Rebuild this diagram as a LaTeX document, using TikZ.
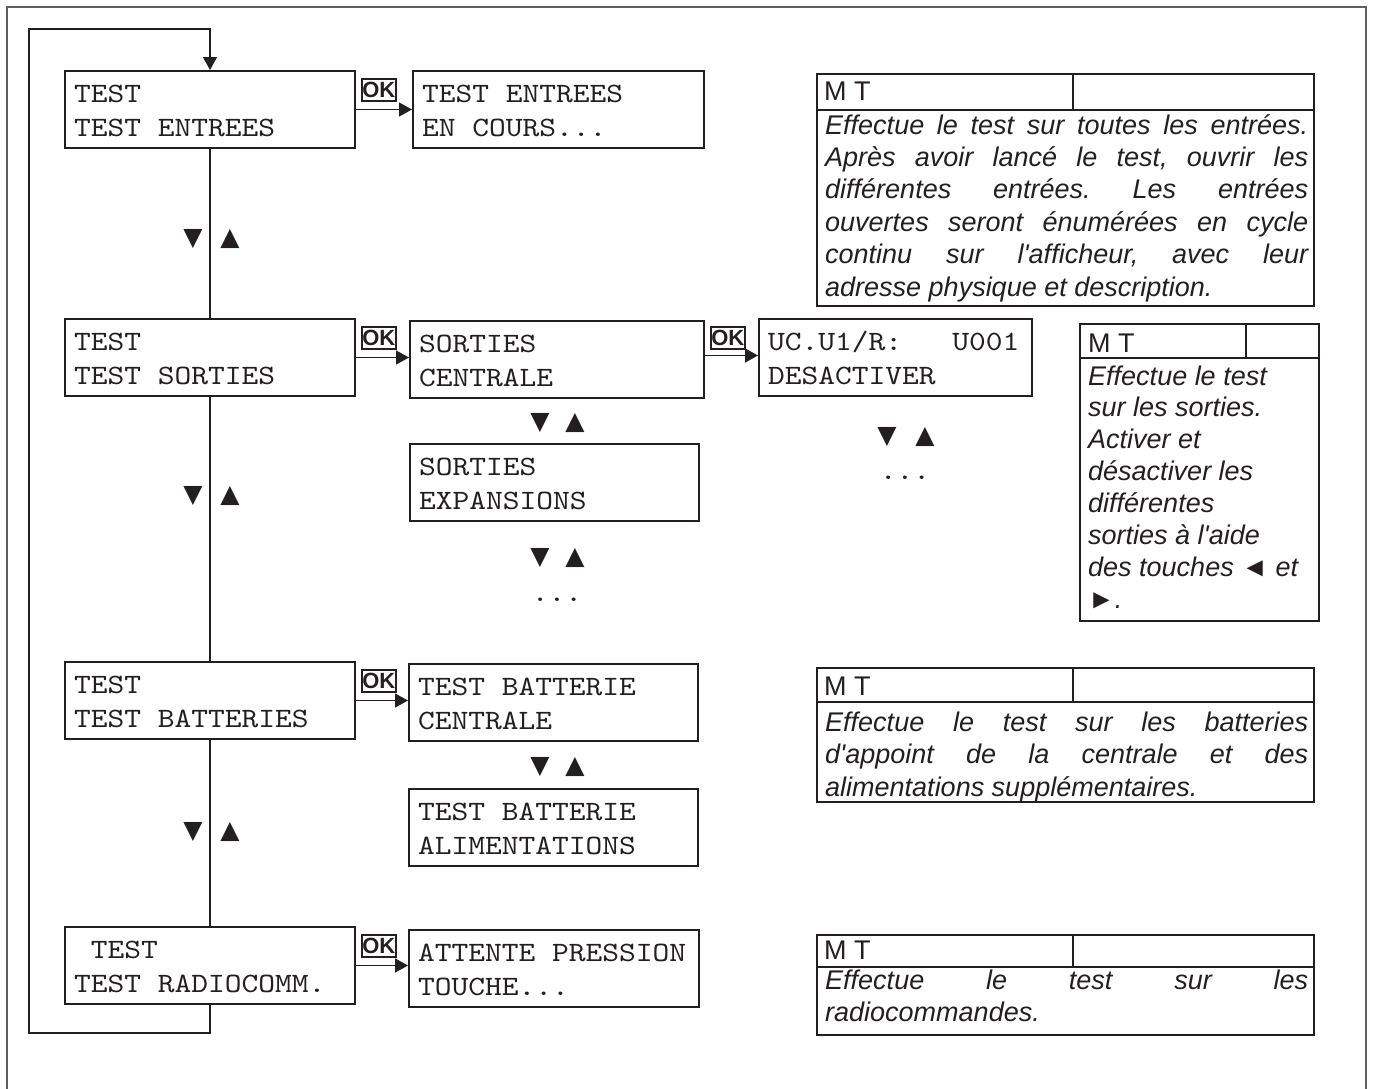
\documentclass[tikz,border=0pt]{standalone}
\usepackage{fontspec}
\usetikzlibrary{arrows.meta,calc}
\newfontfamily\lcdfont{lmmono10-regular.otf}[FakeStretch=1.14]
\newfontfamily\sansfont{Liberation Sans}
\newfontfamily\symfont{DejaVu Sans}
\definecolor{ink}{RGB}{35,31,32}
\definecolor{framegray}{RGB}{95,95,95}
\newcommand\lst{\rule[-4.5pt]{0pt}{29.5pt}}
\newcommand\ms{\phantom{X}}
\newcommand\symtri[1]{{\upshape #1}}
\frenchspacing
\begin{document}
\begin{tikzpicture}[x=1pt,y=-1pt,
  lcd/.style={draw=ink, line width=2pt, minimum height=77pt, inner xsep=9pt, inner ysep=0pt,
    align=left, text width=#1, font=\lcdfont\fontsize{28}{34}\selectfont, text=ink, anchor=north west},
  okbox/.style={draw=ink, line width=1.5pt, font=\sansfont\bfseries\fontsize{22}{22}\selectfont,
    minimum width=34pt, minimum height=22pt, inner sep=0pt, text=ink, anchor=south west},
  conn/.style={draw=ink, line width=1.2pt},
  arr/.style={conn, -{Triangle[length=13pt,width=14pt]}},
  tri/.style={font=\symfont\fontsize{25}{25}\selectfont, text=ink, inner sep=0pt},
  dots/.style={font=\lcdfont\fontsize{28}{28}\selectfont, text=ink, inner sep=0pt},
  mtframe/.style={draw=ink, line width=2pt},
  mthead/.style={font=\sansfont\fontsize{27}{32}\selectfont, text=ink, anchor=base west, inner sep=0pt},
  mtline/.style={font=\sansfont\itshape\fontsize{27}{32}\selectfont, text=ink, anchor=base west, inner sep=0pt},
  framel/.style={draw=framegray, line width=1.5pt}]
\useasboundingbox (0,0) rectangle (1373,1088);
% outer frame
\draw[framel] (7,1100) -- (7,7) -- (1366,7) -- (1366,1100);

% left column
\node[lcd=272pt] (b1) at (64,70) {\lst TEST\\\lst TEST\ms ENTREES};
\node[lcd=272pt] (b2) at (64,318) {\lst TEST\\\lst TEST\ms SORTIES};
\node[lcd=272pt] (b3) at (64,661) {\lst TEST\\\lst TEST\ms BATTERIES};
\node[lcd=272pt] (b4) at (64,926) {\lst\ms TEST\\\lst TEST\ms RADIOCOMM.};

% second column
\node[lcd=273pt] (c1) at (412,70) {\lst TEST\ms ENTREES\\\lst EN\ms COURS...};
\node[lcd=276pt] (c2) at (409,320) {\lst SORTIES\\\lst CENTRALE};
\node[lcd=271pt] (c3) at (409,443) {\lst SORTIES\\\lst EXPANSIONS};
\node[lcd=271pt] (c4) at (408,663) {\lst TEST\ms BATTERIE\\\lst CENTRALE};
\node[lcd=271pt] (c5) at (408,788) {\lst TEST\ms BATTERIE\\\lst ALIMENTATIONS};
\node[lcd=272pt] (c6) at (408,929) {\lst ATTENTE\ms PRESSION\\\lst TOUCHE...};

% third column
\node[lcd=255pt] (d1) at (758,318) {\lst UC.U1/R:\ms\ms\ms U001\\\lst DESACTIVER};

% loop and vertical connectors
\coordinate (lb) at (29,1033);
\coordinate (lt) at (29,29);
\draw[arr] (b4.south) |- (lb) -- (lt) -| (b1.north);
\draw[conn] (b1.south) -- (b2.north);
\draw[conn] (b2.south) -- (b3.north);
\draw[conn] (b3.south) -- (b4.north);

% OK arrows
\node[okbox] (ok1) at ([shift={(5,-8)}]b1.east) {OK};
\draw[arr] (b1.east) -- (b1.east -| c1.west);
\node[okbox] (ok2) at ([shift={(5,-8)}]b2.east) {OK};
\draw[arr] (b2.east) -- (b2.east -| c2.west);
\node[okbox] (ok3) at ([shift={(5,-8)}]b3.east) {OK};
\draw[arr] (b3.east) -- (b3.east -| c4.west);
\node[okbox] (ok4) at ([shift={(5,-8)}]b4.east) {OK};
\draw[arr] (b4.east) -- (b4.east -| c6.west);
\coordinate (a5) at ($(c2.east)+(0,-4)$);
\node[okbox] (ok5) at ([shift={(5,-6)}]a5) {OK};
\draw[arr] (a5) -- (a5 -| d1.west);

% up/down symbols
\node[tri] (dn1) at (193,239) {▼};
\node[tri] (up1) at (230,239) {▲};
\node[tri] (dn2) at (193,496) {▼};
\node[tri] (up2) at (230,496) {▲};
\node[tri] (dn3) at (193,832) {▼};
\node[tri] (up3) at (230,832) {▲};
\node[tri] (dn4) at (540,423) {▼};
\node[tri] (up4) at (575,423) {▲};
\node[tri] (dn5) at (540,558) {▼};
\node[tri] (up5) at (575,558) {▲};
\node[tri] (dn6) at (540,767) {▼};
\node[tri] (up6) at (575,767) {▲};
\node[tri] (dn7) at (887,437) {▼};
\node[tri] (up7) at (925,437) {▲};
\node[dots] (dd1) at (557,600) {...};
\node[dots] (dd2) at (905,478) {...};

% MT box 1
\draw[mtframe] (817,74) rectangle (1314,306);
\draw[mtframe] (817,110) -- (1314,110);
\draw[mtframe] (1073,74) -- (1073,110);
\node[mthead] (h1) at (824,100) {M T};
\node[mtline] (l11) at (825,134) {\makebox[483pt][s]{Effectue le test sur toutes les entrées.}};
\node[mtline] (l12) at (825,166.4) {\makebox[483pt][s]{Après avoir lancé le test, ouvrir les}};
\node[mtline] (l13) at (825,198.8) {\makebox[483pt][s]{différentes entrées. Les entrées}};
\node[mtline] (l14) at (825,231.2) {\makebox[483pt][s]{ouvertes seront énumérées en cycle}};
\node[mtline] (l15) at (825,263.6) {\makebox[483pt][s]{continu sur l'afficheur, avec leur}};
\node[mtline] (l16) at (825,296) {adresse physique et description.};

% MT box 2
\draw[mtframe] (1080,324) rectangle (1319,621);
\draw[mtframe] (1080,358) -- (1319,358);
\draw[mtframe] (1246,324) -- (1246,358);
\node[mthead] (h2) at (1088,352) {M T};
\node[mtline] (l21) at (1088,385) {Effectue le test};
\node[mtline] (l22) at (1088,416.9) {sur les sorties.};
\node[mtline] (l23) at (1088,448.8) {Activer et};
\node[mtline] (l24) at (1088,480.7) {désactiver les};
\node[mtline] (l25) at (1088,512.6) {différentes};
\node[mtline] (l26) at (1088,544.5) {sorties à l'aide};
\node[mtline] (l27) at (1088,576.4) {des touches \symtri{◄} et};
\node[mtline] (l28) at (1088,608.3) {\symtri{►}.};

% MT box 3
\draw[mtframe] (817,668) rectangle (1314,802);
\draw[mtframe] (817,702) -- (1314,702);
\draw[mtframe] (1073,668) -- (1073,702);
\node[mthead] (h3) at (824,695) {M T};
\node[mtline] (l31) at (825,731) {\makebox[483pt][s]{Effectue le test sur les batteries}};
\node[mtline] (l32) at (825,763.5) {\makebox[483pt][s]{d'appoint de la centrale et des}};
\node[mtline] (l33) at (825,796) {alimentations supplémentaires.};

% MT box 4
\draw[mtframe] (817,935) rectangle (1314,1035);
\draw[mtframe] (817,967) -- (1314,967);
\draw[mtframe] (1073,935) -- (1073,967);
\node[mthead] (h4) at (824,959) {M T};
\node[mtline] (l41) at (825,989) {\makebox[483pt][s]{Effectue le test sur les}};
\node[mtline] (l42) at (825,1021) {radiocommandes.};
\end{tikzpicture}
\end{document}
